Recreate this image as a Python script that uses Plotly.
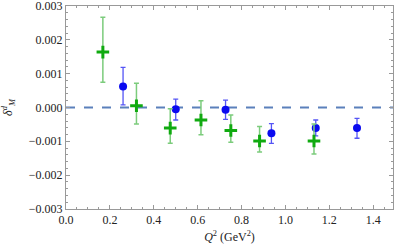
import plotly.graph_objects as go

# Green series (crosses)
g_x = [0.168, 0.475, 0.321, 0.615, 0.751, 0.882, 1.130]
g_y = [0.00164, -0.00061, 0.00005, -0.00037, -0.00068, -0.00099, -0.00099]
g_up = [0.00267, -0.00004, 0.00072, 0.00020, -0.00022, -0.00056, -0.00049]
g_lo = [0.00075, -0.00106, -0.00049, -0.00081, -0.00103, -0.00132, -0.00138]

# Blue series (circles)
b_x = [0.260, 0.500, 0.727, 0.936, 1.138, 1.326]
b_y = [0.00062, -0.00005, -0.00007, -0.00076, -0.00061, -0.00061]
b_up = [0.00119, 0.00025, 0.00022, -0.00048, -0.00037, -0.00032]
b_lo = [0.00008, -0.00037, -0.00035, -0.00106, -0.00084, -0.00091]

x_ticks = [0.0, 0.2, 0.4, 0.6, 0.8, 1.0, 1.2, 1.4]
y_ticks = [-0.003, -0.002, -0.001, 0.0, 0.001, 0.002, 0.003]

SERIF = "Liberation Serif"

fig = go.Figure()

fig.add_trace(go.Scatter(
    x=[0, 1.49], y=[0, 0], mode="lines",
    line=dict(color="#5b80bb", width=2, dash="dash"),
    hoverinfo="skip", showlegend=False))

fig.add_trace(go.Scatter(
    x=b_x, y=b_y, mode="markers",
    marker=dict(symbol="circle", size=8, color="#0a0af0"),
    error_y=dict(type="data", symmetric=False,
                 array=[u - y for u, y in zip(b_up, b_y)],
                 arrayminus=[y - l for l, y in zip(b_lo, b_y)],
                 color="#5555f5", thickness=1.3, width=2.5),
    showlegend=False))

fig.add_trace(go.Scatter(
    x=g_x, y=g_y, mode="markers",
    marker=dict(symbol="cross-thin", size=9, color="#10aa10",
                line=dict(width=3, color="#10aa10")),
    error_y=dict(type="data", symmetric=False,
                 array=[u - y for u, y in zip(g_up, g_y)],
                 arrayminus=[y - l for l, y in zip(g_lo, g_y)],
                 color="#7ccc7c", thickness=1.5, width=2.5),
    showlegend=False))

axis_common = dict(
    showgrid=False, zeroline=False, showline=True, linecolor="#999999",
    linewidth=1, mirror="allticks", ticks="inside", ticklen=4,
    tickcolor="#999999", tickwidth=1, automargin=False,
    ticklabeloverflow="allow",
    tickfont=dict(family=SERIF, size=12, color="#222222"),
)

fig.update_xaxes(
    range=[0, 1.49], tickvals=x_ticks,
    ticktext=[f"{v:.1f}" for v in x_ticks],
    minor=dict(dtick=0.05, tick0=0, ticks="inside", ticklen=2, tickcolor="#999999"),
    title=dict(text="<i>Q</i><sup>2</sup> (GeV<sup>2</sup>)",
               font=dict(family=SERIF, size=12, color="#222222"),
               standoff=6),
    **axis_common)

fig.update_yaxes(
    range=[-0.003005, 0.003005], tickvals=y_ticks,
    ticktext=[("\u2212" if v < 0 else "") + f"{abs(v):.3f}" for v in y_ticks],
    minor=dict(dtick=0.0002, tick0=0, ticks="inside", ticklen=2, tickcolor="#999999"),
    title=dict(text="<i>δ</i><sup><i>d</i></sup><sub><i>M</i></sub>",
               font=dict(family=SERIF, size=12, color="#222222"),
               standoff=14),
    **axis_common)

fig.update_layout(
    width=395, height=250,
    margin=dict(l=66, r=2, t=6, b=41),
    paper_bgcolor="white", plot_bgcolor="white",
    font=dict(family=SERIF),
)

fig.write_html("out.html", config={"displayModeBar": False},
               post_script="document.body.style.margin='0';document.body.style.padding='0';")
